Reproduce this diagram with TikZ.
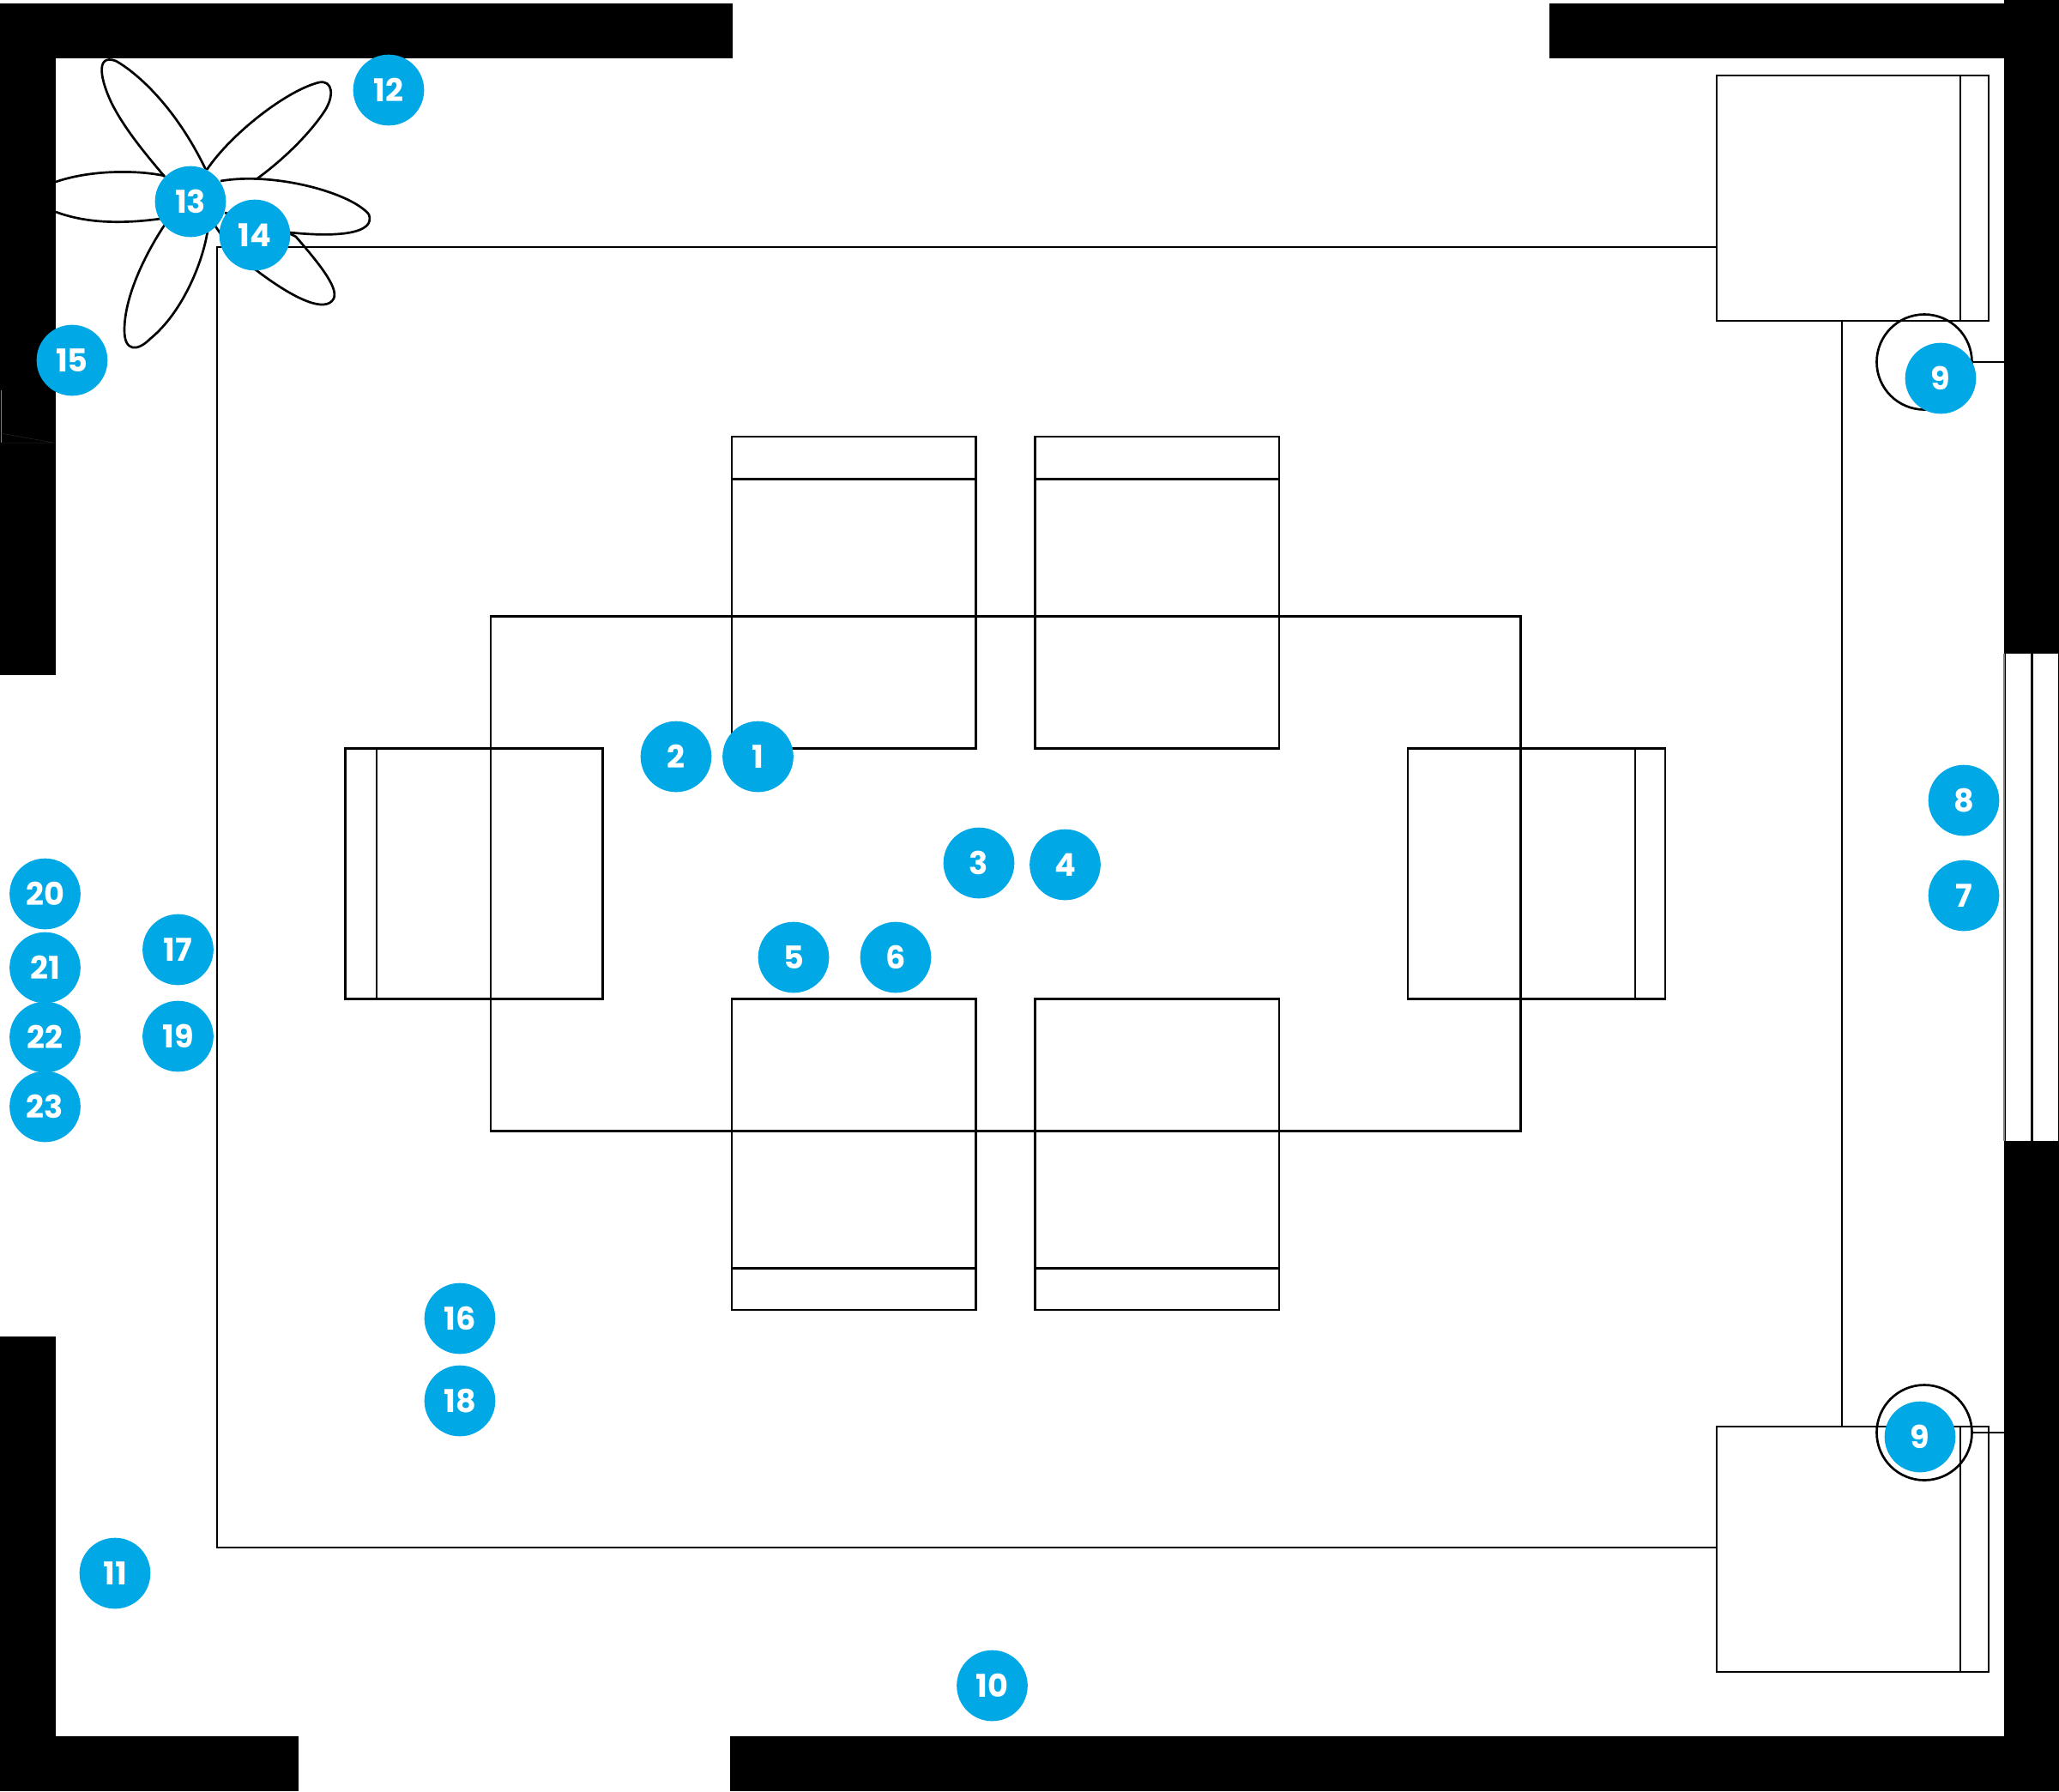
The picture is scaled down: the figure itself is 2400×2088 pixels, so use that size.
\documentclass[tikz,border=0pt]{standalone}
\usepackage{fontspec}
\setmainfont{Poppins}
\definecolor{badgeblue}{HTML}{00A8E6}
\tikzset{
	wall/.style={fill=black},
	outline/.style={line width=.8pt,color=black},
	badge/.style={circle,fill=badgeblue,text=white,minimum size=24.8pt,inner sep=0pt,font=\fontsize{11}{11}\selectfont\bfseries}
}
\begin{document}
\begin{tikzpicture}[line cap=butt,line join=miter,x=.3pt,y=-.3pt]
	\useasboundingbox (0,0) rectangle (2400,2088);
	\fill[white] (0,0) rectangle (2400,2088);
	% walls
	\fill[wall] (0,3.5) rectangle (854,68);
	\fill[wall] (1806,3.5) rectangle (2336,68);
	\fill[wall] (2336,0) rectangle (2400,762);
	\fill[wall] (0,68) rectangle (65,787);
	\fill[wall] (0,1558) rectangle (65,2024);
	\fill[wall] (0,2024) rectangle (348,2088);
	\fill[wall] (851,2024) rectangle (2400,2088);
	\fill[wall] (2336,1330) rectangle (2400,2024);
	\draw[line width=.15pt,color=black!50] (1,455)--(1,516);
	\draw[line width=.15pt,color=black!85] (1,516)--(64,516) (1,505)--(62,516);
	% window
	\fill[wall] (2336,762) rectangle (2400,1330);
	\fill[white] (2338,762) rectangle (2367,1330);
	\fill[white] (2370,762) rectangle (2399,1330);
	\draw[line width=.6pt,color=black!50] (2336,762)--(2336,1330);
	% carpet
	\draw[outline] (2001,288)--(253,288)--(253,1804)--(2001,1804);
	\draw[outline] (2147,374)--(2147,1663);
	% table and chairs
	\draw[outline] (572,718.5) rectangle (1772.5,1318.5);
	\foreach \cx in {853,1206.5}{
		\draw[outline] (\cx,509) rectangle (\cx+284.5,872.5);
		\draw[outline] (\cx,558.5)--(\cx+284.5,558.5);
		\draw[outline] (\cx,1164.5) rectangle (\cx+284.5,1527);
		\draw[outline] (\cx,1478.5)--(\cx+284.5,1478.5);
	}
	\draw[outline] (402.5,872.5) rectangle (702.5,1164.5);
	\draw[outline] (439,872.5)--(439,1164.5);
	\draw[outline] (1641,872.5) rectangle (1941,1164.5);
	\draw[outline] (1906,872.5)--(1906,1164.5);
	% armchairs and lamps
	\foreach \cy in {88,1663}{
		\draw[outline] (2001,\cy) rectangle (2318,\cy+286);
		\draw[outline] (2285,\cy)--(2285,\cy+286);
	}
	\foreach \cy in {422,1670}{
		\draw[outline] (2243,\cy) circle[radius=55.5];
		\draw[outline] (2298.5,\cy)--(2336,\cy);
	}
	% plant
	\draw[outline] (240,198) .. controls (205,125) and (160,85) .. (135,71) .. controls (110,62) and (118,95) .. (130,120) .. controls (145,150) and (170,180) .. (192,206);
	\draw[outline] (241,198) .. controls (270,155) and (335,105) .. (372,96) .. controls (388,93) and (390,112) .. (378,130) .. controls (358,160) and (325,190) .. (300,208);
	\draw[outline] (257,211) .. controls (320,200) and (410,225) .. (430,250) .. controls (438,272) and (395,277) .. (338,271);
	\draw[outline] (262,248) .. controls (300,258) and (335,270) .. (345,276) .. controls (370,305) and (395,335) .. (389,348) .. controls (380,365) and (345,350) .. (300,316) .. controls (285,305) and (268,290) .. (250,262);
	\draw[outline] (243,262) .. controls (238,305) and (212,365) .. (175,395) .. controls (160,410) and (145,410) .. (145,385) .. controls (145,345) and (170,295) .. (192,262);
	\draw[outline] (65,212) .. controls (105,198) and (160,198) .. (192,205);
	\draw[outline] (65,247) .. controls (105,262) and (150,260) .. (187,255);
	% labels
	\foreach \tag/\bx/\by/\txt in {a1/883.5/882/1,a2/788/882/2,a3/1141/1006/3,a4/1241.5/1008/4,a5/925/1116/5,a6/1044/1116/6,a7/2289/1044/7,a8/2289/933/8,a9/2262/441/9,b9/2238/1675/9,a10/1156.5/1965/10,a11/134/1834/11,a12/453/105/12,a13/222/235/13,a14/297/274/14,a15/84/420/15,a16/536/1537/16,a17/207.5/1107/17,a18/536/1633/18,a19/207.5/1208/19,a20/52.5/1042/20,a21/52.5/1128/21,a22/52.5/1209/22,a23/52.5/1290/23}
		\node[badge] (\tag) at (\bx,\by) {\txt};
\end{tikzpicture}
\end{document}
